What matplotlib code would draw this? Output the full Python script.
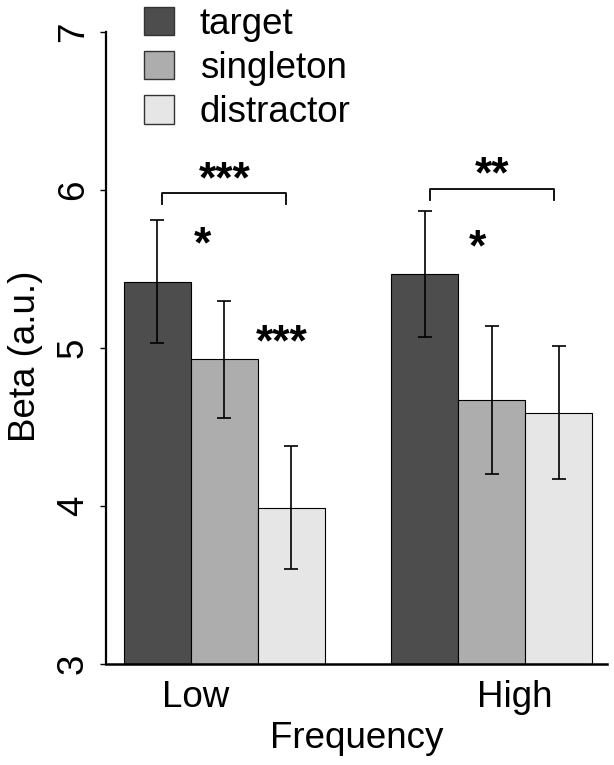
import matplotlib

matplotlib.use("Agg")
import matplotlib.pyplot as plt  # noqa: E402
import matplotlib.transforms as mtransforms  # noqa: E402
from matplotlib.patches import Patch  # noqa: E402
import numpy as np  # noqa: E402

plt.rcParams["font.family"] = ["Liberation Sans", "DejaVu Sans"]

# --- data ---
groups = ["Low", "High"]
conditions = ["target", "singleton", "distractor"]
beta_low = [5.42, 4.93, 3.99]
beta_high = [5.47, 4.67, 4.59]
sem_low = [0.39, 0.37, 0.39]
sem_high = [0.40, 0.47, 0.42]

# significance: (group index, cond a, cond b, bracket height, label height, label)
brackets = [(0, 0, 2, 5.98, 6.11, "***"), (1, 0, 2, 6.005, 6.14, "**")]
# single stars: (group index, x offset in bar units from group start, y, label)
stars = [(0, 1.17, 5.70, "*"), (0, 2.36, 5.08, "***"), (1, 1.29, 5.68, "*")]

_COLORS = ["#4d4d4d", "#adadad", "#e6e6e6"]
_FS = 26.5
_STAR_FS = 32


def main() -> None:
    fig = plt.figure(figsize=(6.14, 7.65), dpi=100)
    ax = fig.add_axes([106 / 614, 1 - 664 / 765, 501 / 614, 664 / 765])

    values = np.array([beta_low, beta_high])
    errors = np.array([sem_low, sem_high])
    starts = 1 + 4 * np.arange(len(groups))

    for j, cond in enumerate(conditions):
        x = starts + j + 0.5
        ax.bar(x, values[:, j] - 3, bottom=3, width=1.0, color=_COLORS[j],
               edgecolor="black", linewidth=0.8, label=cond)
        ax.errorbar(x, values[:, j], yerr=errors[:, j], fmt="none",
                    ecolor="black", elinewidth=1.2, capsize=5, capthick=1.2)

    # star glyph sits high in the em box; shift so y is the glyph centre
    star_tr = mtransforms.offset_copy(ax.transData, fig=fig, y=-0.45 * _STAR_FS, units="points")

    inset = 0.07
    for g, a, b, y, y_lab, lab in brackets:
        x0 = starts[g] + a + 0.5 + inset
        x1 = starts[g] + b + 0.5 - inset
        ax.plot([x0, x0, x1, x1], [y - 0.07, y, y, y - 0.07], color="black", lw=1.3)
        ax.text((x0 + x1) / 2, y_lab, lab, transform=star_tr, ha="center", va="baseline",
                fontsize=_STAR_FS, fontweight="bold")

    for g, dx, y, lab in stars:
        ax.text(starts[g] + dx, y, lab, transform=star_tr, ha="center", va="baseline",
                fontsize=_STAR_FS, fontweight="bold")

    ax.set_xlim(0.731, 8.224)
    ax.set_ylim(3, 3 + 664 / 158)

    ax.set_xticks([2.07, 6.84], groups)
    ax.tick_params(axis="x", length=0, pad=11.5, labelsize=_FS)
    ax.set_yticks([3, 4, 5, 6, 7])
    ax.tick_params(axis="y", length=4.3, width=1, pad=6.5, labelsize=_FS, labelrotation=90)
    for lab in ax.get_yticklabels():
        lab.set_va("center")

    for side in ("top", "right"):
        ax.spines[side].set_visible(False)
    ax.spines["left"].set_bounds(3, 7)
    ax.spines["left"].set_linewidth(1.6)
    ax.spines["bottom"].set_linewidth(1.8)

    ax.set_xlabel("Frequency", fontsize=_FS)
    ax.xaxis.set_label_coords(0.5, -(721 - 664) / 664)
    ax.set_ylabel("Beta (a.u.)", fontsize=_FS)
    ax.yaxis.set_label_coords(-(106 - 43) / 501, (664 - 356) / 664)

    handles = [Patch(facecolor=c, edgecolor="#333333", linewidth=1) for c in _COLORS]
    ax.legend(handles, conditions, loc="upper left", bbox_to_anchor=(144 / 614, 1 - 6.5 / 765),
              bbox_transform=fig.transFigure, frameon=False, fontsize=_FS,
              handlelength=0.82, handleheight=0.82, handletextpad=0.7,
              labelspacing=0.25, borderpad=0, borderaxespad=0)

    fig.savefig("out.png", dpi=100)
    plt.close(fig)


if __name__ == "__main__":
    main()
